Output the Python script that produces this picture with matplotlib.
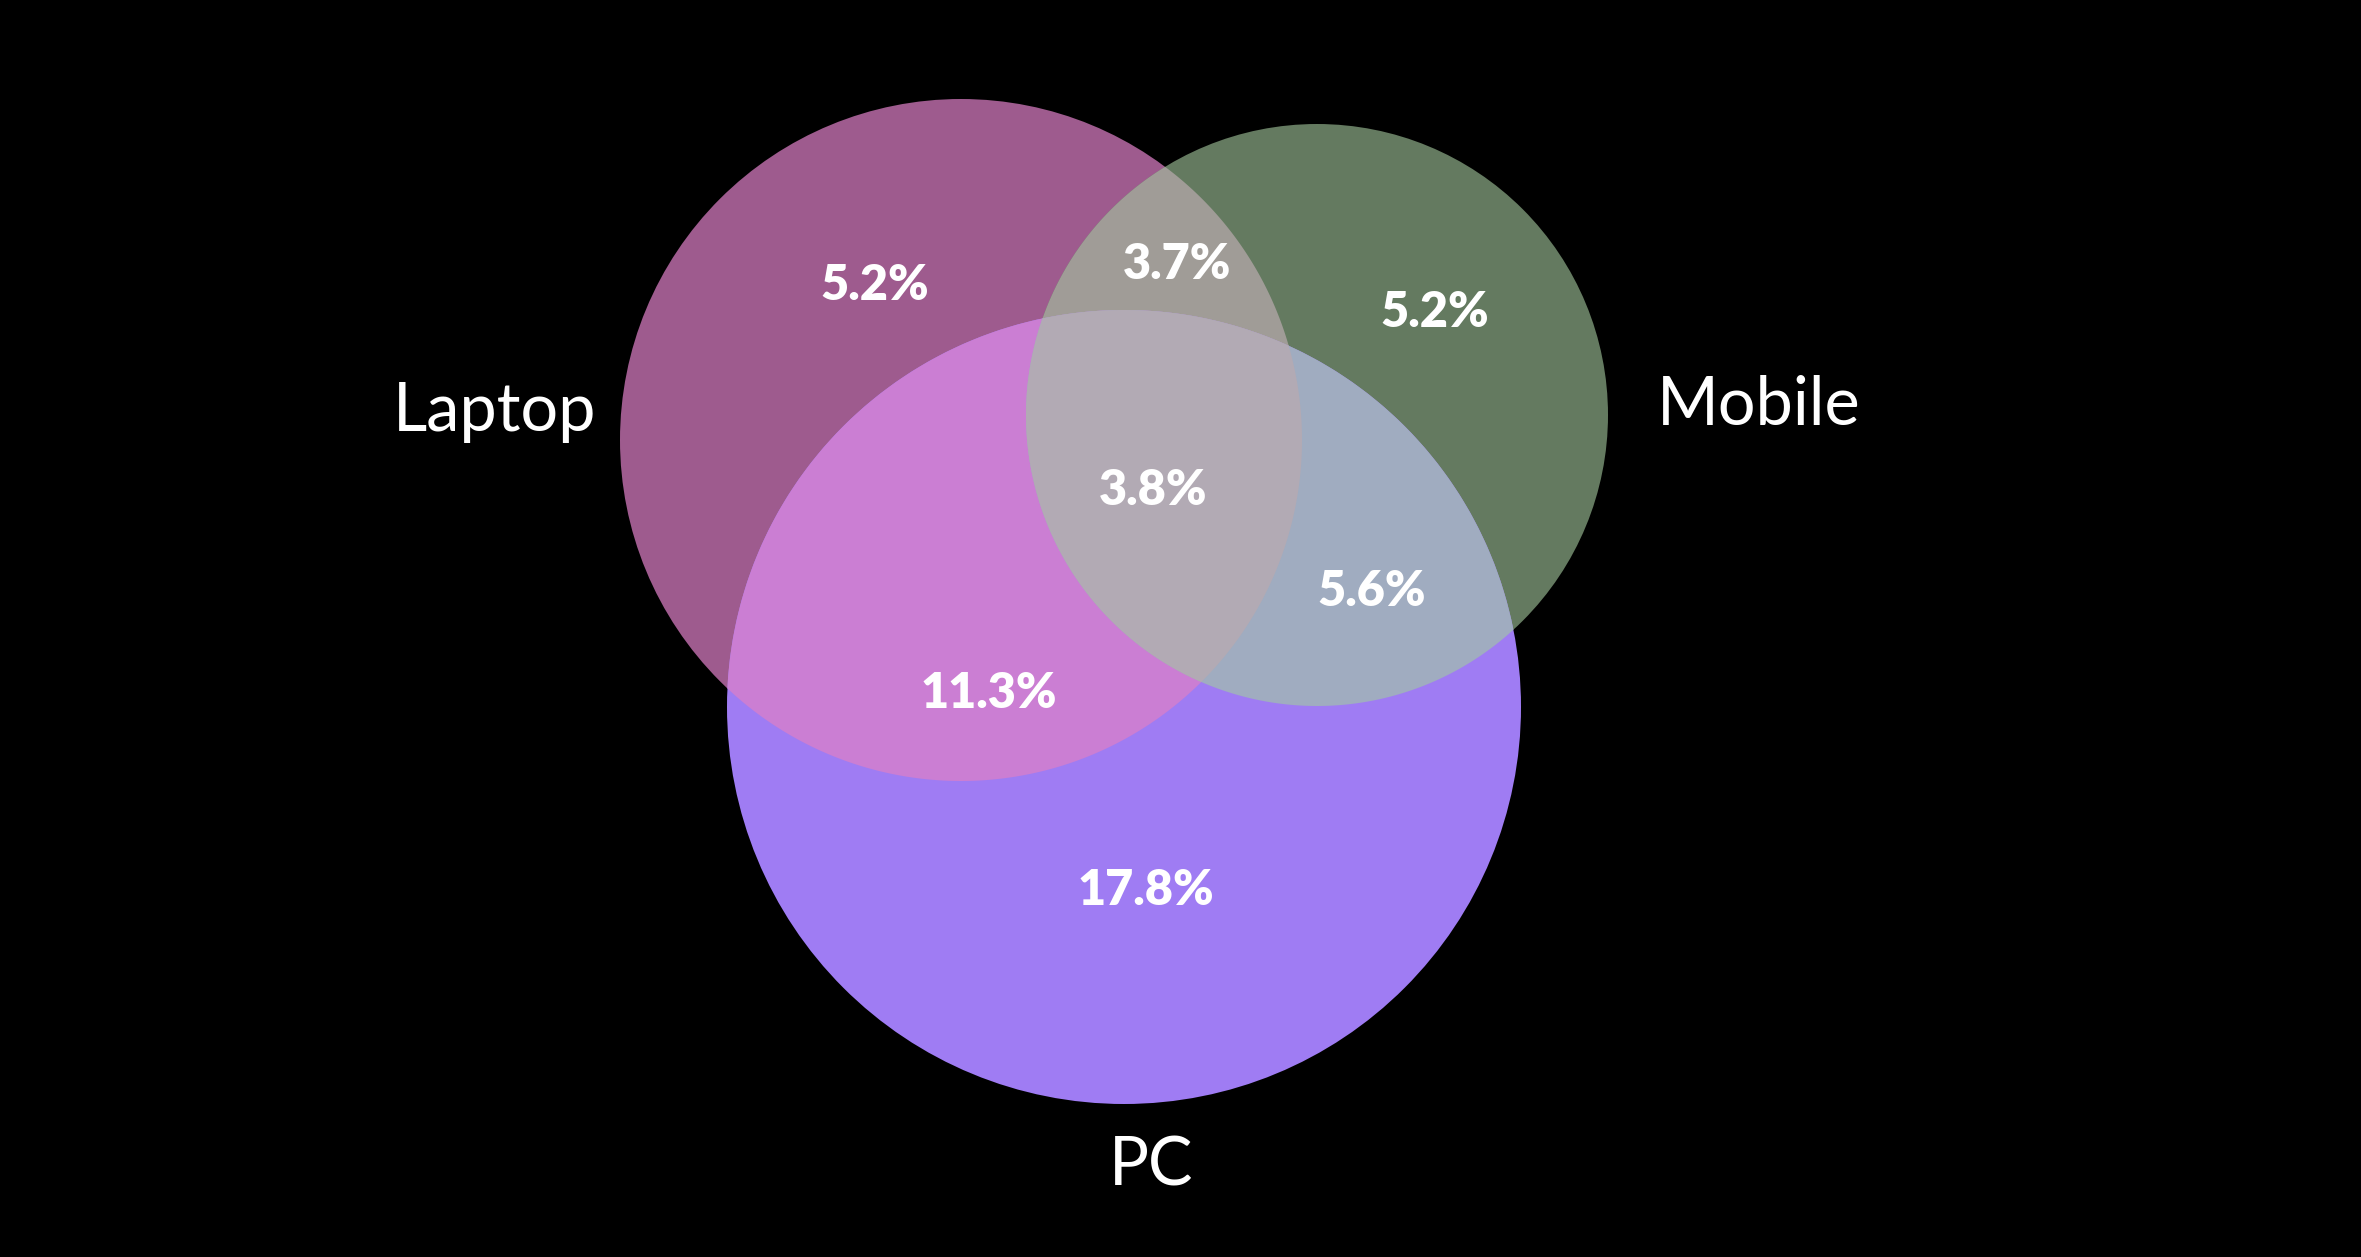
import numpy as np
import matplotlib
matplotlib.use("Agg")
import matplotlib.pyplot as plt
from matplotlib.patches import Circle, Polygon

# ---- data ----
set_names = ["Laptop", "Mobile", "PC"]
# region labels: keys are tuples of set membership (Laptop, Mobile, PC)
region_keys = ["100", "010", "001", "110", "101", "011", "111"]
region_values = [5.2, 5.2, 17.8, 3.7, 11.3, 5.6, 3.8]

# ---- layout / style (pixel space) ----
W, H = 2361, 1257
centers = [(961, 440), (1317, 415), (1124, 707)]
radii = [341, 291, 397]
region_colors = {
    "100": "#9E5B8E",
    "010": "#647A60",
    "001": "#9F7CF3",
    "110": "#A09C97",
    "101": "#CB7ED3",
    "011": "#A0ACC0",
    "111": "#B2AAB4",
}
label_pos = {
    "100": (875, 283),
    "110": (1177, 262),
    "010": (1435, 310),
    "111": (1153, 488),
    "011": (1372, 589),
    "101": (989, 691),
    "001": (1146, 888),
}
name_pos = [(495, 431), (1759, 425), (1151, 1186)]

plt.rcParams["font.family"] = ["Lato", "DejaVu Sans"]
fig = plt.figure(figsize=(W / 100, H / 100), dpi=100, facecolor="black")
ax = fig.add_axes([0, 0, 1, 1])
ax.set_facecolor("black")
ax.set_xlim(0, W)
ax.set_ylim(H, 0)
ax.set_aspect("equal")
ax.axis("off")


def inside(pts, i):
    cx, cy = centers[i]
    return np.hypot(pts[:, 0] - cx, pts[:, 1] - cy) <= radii[i] + 1e-6


def region_polygon(idx):
    pts_all = []
    t = np.linspace(0, 2 * np.pi, 4000, endpoint=False)
    for i in idx:
        cx, cy = centers[i]
        pts = np.column_stack([cx + radii[i] * np.cos(t), cy + radii[i] * np.sin(t)])
        mask = np.ones(len(pts), bool)
        for j in idx:
            if j != i:
                mask &= inside(pts, j)
        pts_all.append(pts[mask])
    pts = np.vstack(pts_all)
    c = pts.mean(axis=0)
    ang = np.arctan2(pts[:, 1] - c[1], pts[:, 0] - c[0])
    return pts[np.argsort(ang)]


# single circles
for i in range(3):
    key = "".join("1" if k == i else "0" for k in range(3))
    ax.add_patch(Circle(centers[i], radii[i], facecolor=region_colors[key],
                        edgecolor="none", zorder=1))
# pairwise lenses
for key in ["110", "101", "011"]:
    idx = [k for k in range(3) if key[k] == "1"]
    ax.add_patch(Polygon(region_polygon(idx), closed=True,
                         facecolor=region_colors[key], edgecolor="none", zorder=2))
# triple
ax.add_patch(Polygon(region_polygon([0, 1, 2]), closed=True,
                     facecolor=region_colors["111"], edgecolor="none", zorder=3))

# region value labels
for key, val in zip(region_keys, region_values):
    x, y = label_pos[key]
    ax.text(x, y + 17, f"{val:.1f}%", color="white", fontsize=35,
            fontweight="heavy", ha="center", va="baseline", zorder=5)

# set names
for name, (x, y) in zip(set_names, name_pos):
    ax.text(x, y, name, color="white", fontsize=48, ha="center",
            va="baseline", zorder=5)

fig.savefig("out.png", dpi=100, facecolor="black")
